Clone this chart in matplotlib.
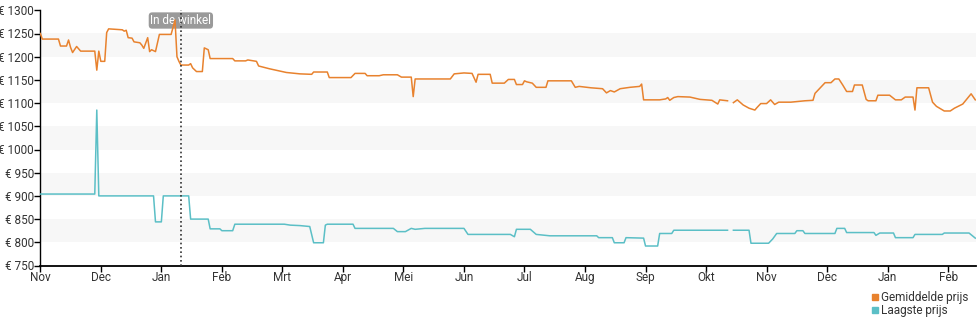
import calendar
import numpy as np
import matplotlib
matplotlib.use("Agg")
import matplotlib.pyplot as plt
from matplotlib.lines import Line2D

plt.rcParams['font.family'] = ['Roboto', 'DejaVu Sans']

# ---------------- data ----------------
month_labels = ["Nov", "Dec", "Jan", "Feb", "Mrt", "Apr", "Mei", "Jun",
                "Jul", "Aug", "Sep", "Okt", "Nov", "Dec", "Jan", "Feb"]
start_year, start_month = 2022, 11

avg_dates = ["2022-11-01", "2022-11-02", "2022-11-10", "2022-11-11", "2022-11-14", "2022-11-15",
             "2022-11-16", "2022-11-17", "2022-11-19", "2022-11-21", "2022-11-28", "2022-11-29",
             "2022-11-30", "2022-12-01", "2022-12-03", "2022-12-04", "2022-12-05", "2022-12-12",
             "2022-12-13", "2022-12-14", "2022-12-15", "2022-12-17", "2022-12-18", "2022-12-21",
             "2022-12-22", "2022-12-23", "2022-12-25", "2022-12-26", "2022-12-27", "2022-12-29",
             "2022-12-31", "2023-01-06", "2023-01-08", "2023-01-09", "2023-01-10", "2023-01-11",
             "2023-01-15", "2023-01-16", "2023-01-17", "2023-01-19", "2023-01-22", "2023-01-23",
             "2023-01-25", "2023-01-26", "2023-02-06", "2023-02-07", "2023-02-12", "2023-02-13",
             "2023-02-17", "2023-02-18", "2023-02-23", "2023-03-03", "2023-03-10", "2023-03-16",
             "2023-03-17", "2023-03-24", "2023-03-25", "2023-04-05", "2023-04-07", "2023-04-12",
             "2023-04-13", "2023-04-19", "2023-04-21", "2023-04-28", "2023-04-30", "2023-05-05",
             "2023-05-06", "2023-05-07", "2023-05-25", "2023-05-27", "2023-06-01", "2023-06-05",
             "2023-06-07", "2023-06-08", "2023-06-14", "2023-06-15", "2023-06-21", "2023-06-23",
             "2023-06-26", "2023-06-27", "2023-06-30", "2023-07-01", "2023-07-02", "2023-07-05",
             "2023-07-07", "2023-07-12", "2023-07-13", "2023-07-25", "2023-07-27", "2023-07-29",
             "2023-08-04", "2023-08-10", "2023-08-12", "2023-08-14", "2023-08-16", "2023-08-19",
             "2023-08-24", "2023-08-29", "2023-08-30", "2023-08-31", "2023-09-08", "2023-09-11",
             "2023-09-12", "2023-09-13", "2023-09-15", "2023-09-17", "2023-09-23", "2023-09-28",
             "2023-10-04", "2023-10-07", "2023-10-08", "2023-10-12", "2023-10-13", "2023-10-15",
             "2023-10-17", "2023-10-20", "2023-10-23", "2023-10-26", "2023-10-27", "2023-10-29",
             "2023-11-01", "2023-11-03", "2023-11-05", "2023-11-07", "2023-11-13", "2023-11-20",
             "2023-11-24", "2023-11-25", "2023-11-30", "2023-12-03", "2023-12-05", "2023-12-07",
             "2023-12-09", "2023-12-11", "2023-12-14", "2023-12-15", "2023-12-19", "2023-12-21",
             "2023-12-22", "2023-12-26", "2023-12-27", "2024-01-02", "2024-01-05", "2024-01-08",
             "2024-01-10", "2024-01-14", "2024-01-15", "2024-01-16", "2024-01-22", "2024-01-24",
             "2024-01-26", "2024-01-30", "2024-02-02", "2024-02-04", "2024-02-08", "2024-02-12",
             "2024-02-14"]
avg_prices = [1250, 1238, 1238, 1223, 1223, 1236,
              1220, 1209, 1222, 1212, 1212, 1171,
              1212, 1190, 1190, 1252, 1260, 1258,
              1255, 1257, 1241, 1240, 1232, 1230,
              1225, 1218, 1241, 1211, 1215, 1211,
              1248, 1248, 1279, 1200, 1190, 1182,
              1182, 1185, 1176, 1168, 1168, 1219,
              1215, 1196, 1196, 1191, 1191, 1193,
              1190, 1180, 1174, 1166, 1163, 1162,
              1167, 1167, 1155, 1155, 1164, 1164,
              1159, 1159, 1161, 1161, 1156, 1156,
              1114, 1152, 1152, 1163, 1165, 1164,
              1145, 1162, 1162, 1143, 1143, 1151,
              1151, 1140, 1140, 1148, 1146, 1143,
              1134, 1134, 1148, 1148, 1134, 1136,
              1133, 1131, 1122, 1127, 1124, 1131,
              1134, 1136, 1141, 1107, 1107, 1109,
              1112, 1106, 1112, 1114, 1113, 1108,
              1106, 1098, 1107, 1105, np.nan, 1101,
              1107, 1096, 1089, 1085, 1090, 1099,
              1099, 1107, 1097, 1102, 1102, 1105,
              1106, 1121, 1144, 1144, 1152, 1152,
              1139, 1125, 1125, 1139, 1139, 1108,
              1105, 1105, 1117, 1117, 1107, 1107,
              1113, 1113, 1085, 1133, 1133, 1102,
              1093, 1083, 1083, 1089, 1098, 1120,
              1107]

low_dates = ["2022-11-01", "2022-11-28", "2022-11-29", "2022-11-30", "2022-12-28", "2022-12-29",
             "2023-01-01", "2023-01-02", "2023-01-15", "2023-01-16", "2023-01-25", "2023-01-26",
             "2023-01-31", "2023-02-01", "2023-02-06", "2023-02-07", "2023-03-02", "2023-03-05",
             "2023-03-10", "2023-03-15", "2023-03-17", "2023-03-22", "2023-03-23", "2023-03-24",
             "2023-04-06", "2023-04-07", "2023-04-26", "2023-04-28", "2023-05-02", "2023-05-05",
             "2023-05-07", "2023-05-12", "2023-06-01", "2023-06-03", "2023-06-24", "2023-06-26",
             "2023-06-27", "2023-07-04", "2023-07-07", "2023-07-14", "2023-08-07", "2023-08-08",
             "2023-08-15", "2023-08-16", "2023-08-21", "2023-08-22", "2023-08-31", "2023-09-01",
             "2023-09-07", "2023-09-08", "2023-09-14", "2023-09-15", "2023-10-12", "2023-10-13",
             "2023-10-15", "2023-10-23", "2023-10-24", "2023-11-02", "2023-11-04", "2023-11-06",
             "2023-11-15", "2023-11-16", "2023-11-19", "2023-11-20", "2023-12-05", "2023-12-06",
             "2023-12-10", "2023-12-11", "2023-12-25", "2023-12-26", "2023-12-28", "2024-01-04",
             "2024-01-05", "2024-01-14", "2024-01-15", "2024-01-29", "2024-01-30", "2024-02-11",
             "2024-02-14"]
low_prices = [904, 904, 1085, 900, 900, 844,
              844, 900, 900, 850, 850, 829,
              829, 825, 825, 839, 839, 837,
              836, 834, 799, 799, 837, 839,
              839, 830, 830, 823, 823, 830,
              828, 830, 830, 817, 817, 812,
              828, 828, 817, 814, 814, 810,
              810, 799, 799, 810, 809, 792,
              792, 819, 819, 826, 826, np.nan,
              826, 826, 798, 798, 807, 819,
              819, 825, 825, 819, 819, 830,
              830, 821, 821, 815, 820, 820,
              810, 810, 817, 817, 820, 820,
              809]

store_date = "2023-01-11"
store_label = "In de winkel"
series_names = ["Gemiddelde prijs", "Laagste prijs"]
y_ticks = [750, 800, 850, 900, 950, 1000, 1050, 1100, 1150, 1200, 1250, 1300]
band_ranges = [(800, 850), (900, 950), (1000, 1050), (1100, 1150), (1200, 1250)]


def month_pos(s):
    """Position on an axis where every month gets equal width."""
    y, m, d = map(int, s.split("-"))
    idx = (y - start_year) * 12 + (m - start_month)
    return idx + (d - 1) / calendar.monthrange(y, m)[1]


avg_x = [month_pos(s) for s in avg_dates]
low_x = [month_pos(s) for s in low_dates]
store_x = month_pos(store_date)

ORANGE = "#e8822e"
TEAL = "#5bbfc6"
FS = 8.5

fig = plt.figure(figsize=(9.8, 3.25), dpi=100)
ax = fig.add_axes([40.3 / 980, 59.5 / 325, 935.7 / 980, 255.2 / 325])

for lo, hi in band_ranges:
    ax.axhspan(lo, hi, color="#f7f7f7", lw=0, zorder=0)

ax.plot(avg_x, avg_prices, color=ORANGE, lw=1.1, zorder=3, solid_joinstyle="round")
ax.plot(low_x, low_prices, color=TEAL, lw=1.1, zorder=3, solid_joinstyle="round")

ax.axvline(store_x, color="#333333", lw=1.2, ls=(0, (1, 1.6)), zorder=4)
ax.text(store_x, 1278, store_label, ha="center", va="center", fontsize=FS, color="white",
        zorder=2,
        bbox=dict(boxstyle="round,pad=0.14,rounding_size=0.3", fc="#9a9a9a", ec="none"))

ax.set_xlim(0, 15.46)
ax.set_ylim(750, 1300)
ax.set_yticks(y_ticks)
ax.set_yticklabels([f"€ {v}" for v in y_ticks])
ax.set_xticks(range(len(month_labels)))
ax.set_xticklabels(month_labels)

for side in ("top", "right"):
    ax.spines[side].set_visible(False)
ax.spines["left"].set_color("black")
ax.spines["bottom"].set_color("black")
ax.spines["left"].set_linewidth(1.0)
ax.spines["bottom"].set_linewidth(1.3)
ax.tick_params(axis="both", direction="out", length=4, width=1, color="black",
               labelsize=FS, labelcolor="#333333", pad=0.5)
ax.tick_params(axis="x", pad=0)

handles = [Line2D([], [], ls="none", marker="s", markersize=4.5, color=ORANGE),
           Line2D([], [], ls="none", marker="s", markersize=4.5, color=TEAL)]
fig.legend(handles, series_names, loc="upper left", bbox_to_anchor=(872 / 980, 1 - 291 / 325),
           frameon=False, fontsize=FS, handlelength=0.5, handletextpad=0.3,
           labelspacing=0.0, borderpad=0, borderaxespad=0, labelcolor="#333333")

fig.savefig("out.png", dpi=100)
